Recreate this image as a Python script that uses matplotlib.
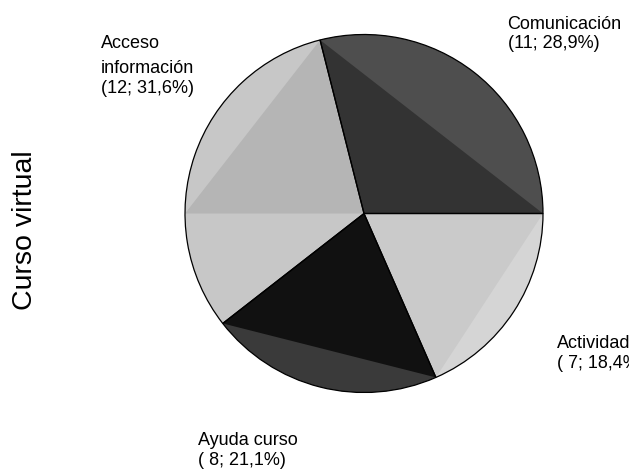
import matplotlib
matplotlib.use('Agg')
import matplotlib.pyplot as plt
from matplotlib.patches import Wedge, Polygon
import numpy as np

plt.rcParams['font.family'] = ['Liberation Sans', 'DejaVu Sans']

# Data
categories = ['Comunicación', 'Acceso\ninformación', 'Ayuda curso', 'Actividades']
counts = [11, 12, 8, 7]
pcts = ['28,9%', '31,6%', '21,1%', '18,4%']
main_colors = ['#333333', '#b5b5b5', '#111111', '#cacaca']
outer_colors = ['#4e4e4e', '#c7c7c7', '#3a3a3a', '#d5d5d5']
axis_label = 'Curso virtual'

W, H = 629, 472
fig = plt.figure(figsize=(W / 100, H / 100), dpi=100)
ax = fig.add_axes([0, 0, 1, 1])
ax.set_xlim(0, W)
ax.set_ylim(0, H)
ax.axis('off')

cx, cy, r = 364, H - 213.5, 179
total = sum(counts)
start = 0.0
angles = []
for i, cnt in enumerate(counts):
    span = 360.0 * cnt / total
    end = start + span
    angles.append((start, end))
    ax.add_patch(Wedge((cx, cy), r, start, end, facecolor=outer_colors[i],
                       edgecolor='none', zorder=1))
    inner_end = 180.0 if (start < 180 < end) else end
    a0, a1 = np.radians(start), np.radians(inner_end)
    pts = [(cx, cy), (cx + r * np.cos(a0), cy + r * np.sin(a0)),
           (cx + r * np.cos(a1), cy + r * np.sin(a1))]
    ax.add_patch(Polygon(pts, closed=True, facecolor=main_colors[i],
                         edgecolor='none', zorder=2))
    start = end

for (s, e) in angles:
    ax.add_patch(Wedge((cx, cy), r, s, e, facecolor='none',
                       edgecolor='black', lw=0.9, zorder=3))

fs = 13
# label left x and baselines (pixels from top) for each line
label_x = [507.5, 101, 198, 557.3]
label_baselines = [[29, 48.3], [48.3, 73.3, 93.3], [445, 465], [348.3, 368.3]]
for i in range(len(categories)):
    lines = categories[i].split('\n') + [f"({counts[i]:>2}; {pcts[i]})"]
    for line, bl in zip(lines, label_baselines[i]):
        ax.text(label_x[i], H - bl, line, fontsize=fs, ha='left',
                va='baseline', color='black', zorder=5)

ax.text(32, H - 230, axis_label, rotation=90, rotation_mode='anchor',
        fontsize=20.5, ha='center', va='baseline')

fig.savefig('out.png', dpi=100)
